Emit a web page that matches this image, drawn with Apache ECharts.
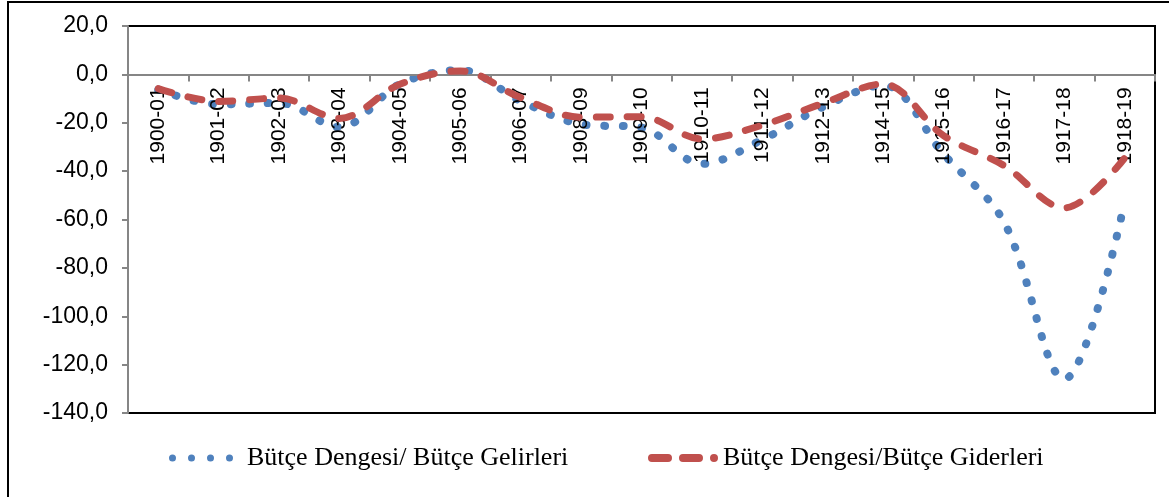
<!DOCTYPE html>
<html>
<head>
<meta charset="utf-8">
<script src="https://cdn.jsdelivr.net/npm/echarts@6/dist/echarts.min.js"></script>
<style>
html,body{margin:0;padding:0;background:#fff;}
#chart{width:1169px;height:497px;}
</style>
</head>
<body>
<div id="chart"></div>
<script>
// ---- data ----
var categories = ['1900-01','1901-02','1902-03','1903-04','1904-05','1905-06','1906-07','1908-09','1909-10','1910-11','1911-12','1912-13','1914-15','1915-16','1916-17','1917-18','1918-19'];
var gelirler = [-6.3, -12.4, -11.8, -21.8, -4.0, 1.8, -11.0, -20.6, -22.0, -37.0, -27.0, -13.5, -4.5, -33.0, -61.0, -126.0, -52.5];
var giderler = [-5.9, -11.2, -9.8, -18.2, -4.1, 1.4, -9.6, -17.7, -17.5, -26.7, -21.0, -12.0, -4.0, -25.3, -37.7, -55.2, -34.5];
var seriesNames = ['Bütçe Dengesi/ Bütçe Gelirleri', 'Bütçe Dengesi/Bütçe Giderleri'];
var yTicks = {min: -140, max: 20, interval: 20};

var BLUE = '#4F81BD', RED = '#C0504D', AXIS = '#868686';
var GRID = {left: 128, top: 26, width: 1027, height: 387};
// place the category axis at value 0 (offset from the bottom of the grid)
var zeroOffset = -GRID.height * (0 - yTicks.min) / (yTicks.max - yTicks.min);

var dotsIcon = 'path://M0 3.5A3.5 3.5 0 1 0 7 3.5A3.5 3.5 0 1 0 0 3.5Z' +
  'M19 3.5A3.5 3.5 0 1 0 26 3.5A3.5 3.5 0 1 0 19 3.5Z' +
  'M38 3.5A3.5 3.5 0 1 0 45 3.5A3.5 3.5 0 1 0 38 3.5Z' +
  'M57 3.5A3.5 3.5 0 1 0 64 3.5A3.5 3.5 0 1 0 57 3.5Z';
var dashIcon = 'path://M4 0H20A4 4 0 0 1 20 8H4A4 4 0 0 1 4 0Z' +
  'M35 0H51A4 4 0 0 1 51 8H35A4 4 0 0 1 35 0Z' +
  'M66 0A4 4 0 0 1 66 8A4 4 0 0 1 66 0Z';

var chart = echarts.init(document.getElementById('chart'), null, {renderer: 'canvas'});
chart.setOption({
  animation: false,
  backgroundColor: '#fff',
  graphic: [
    {type: 'line', shape: {x1: 7, y1: 2, x2: 1169, y2: 2}, style: {stroke: '#000', lineWidth: 2}},
    {type: 'line', shape: {x1: 8, y1: 1, x2: 8, y2: 497}, style: {stroke: '#000', lineWidth: 2}}
  ],
  grid: {
    left: GRID.left, top: GRID.top, width: GRID.width, height: GRID.height,
    show: true, borderColor: '#000', borderWidth: 2, backgroundColor: 'transparent'
  },
  legend: [
    {
      left: 169, top: 445, padding: 0,
      data: [seriesNames[0]],
      icon: dotsIcon, itemWidth: 64, itemHeight: 7,
      textStyle: {fontFamily: 'Liberation Serif', fontSize: 26, color: '#000', padding: [0, 0, 0, 9]}
    },
    {
      left: 648, top: 445, padding: 0,
      data: [seriesNames[1]],
      icon: dashIcon, itemWidth: 70, itemHeight: 8,
      textStyle: {fontFamily: 'Liberation Serif', fontSize: 26, color: '#000'}
    }
  ],
  xAxis: {
    type: 'category',
    data: categories,
    boundaryGap: true,
    position: 'bottom',
    offset: zeroOffset,
    z: 3,
    axisLine: {onZero: false, lineStyle: {color: AXIS, width: 2}},
    axisTick: {show: true, length: 7, lineStyle: {color: AXIS, width: 2}},
    axisLabel: {
      interval: 0, rotate: 90, margin: 13,
      fontFamily: 'Liberation Sans', fontSize: 21, color: '#000'
    },
    splitLine: {show: false}
  },
  yAxis: {
    type: 'value',
    min: yTicks.min, max: yTicks.max, interval: yTicks.interval,
    z: 3,
    axisLine: {show: true, onZero: false, lineStyle: {color: AXIS, width: 2}},
    axisTick: {show: true, length: 6, lineStyle: {color: AXIS, width: 2}},
    axisLabel: {
      margin: 20, fontFamily: 'Liberation Sans', fontSize: 23, color: '#000',
      formatter: function (v) { return v.toFixed(1).replace('.', ','); }
    },
    splitLine: {show: false}
  },
  series: [
    {
      name: seriesNames[0], type: 'line', data: gelirler,
      smooth: 0.35, symbol: 'none', color: BLUE,
      lineStyle: {color: BLUE, width: 8, type: [0.8, 17.8], cap: 'round'},
      z: 2
    },
    {
      name: seriesNames[1], type: 'line', data: giderler,
      smooth: 0.35, symbol: 'none', color: RED,
      lineStyle: {color: RED, width: 7, type: [14, 17], cap: 'round'},
      z: 3
    }
  ]
});
</script>
</body>
</html>
